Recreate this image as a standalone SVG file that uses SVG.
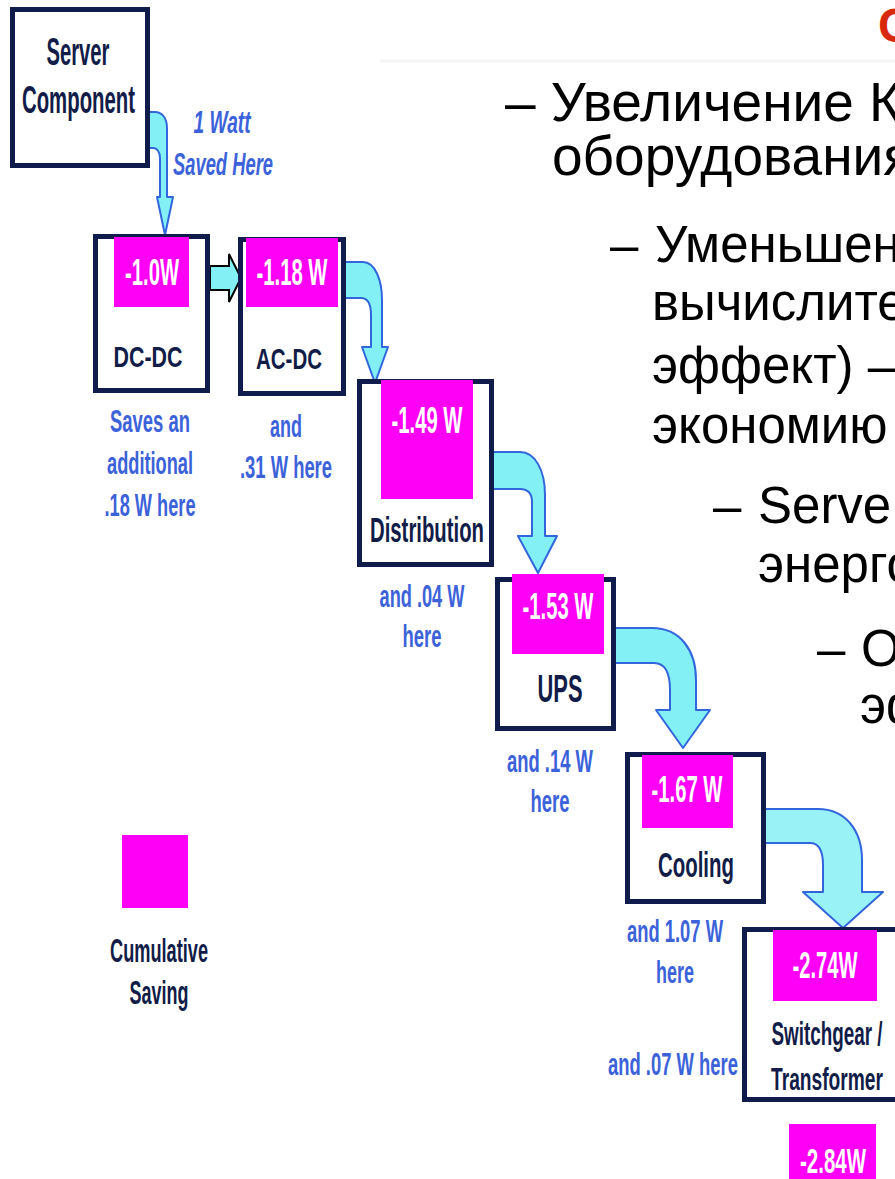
<svg xmlns="http://www.w3.org/2000/svg" width="895" height="1179" viewBox="0 0 895 1179">
  <style>
    .box { fill: #ffffff; stroke: #101d4c; stroke-width: 5; }
    .pink { fill: #ff00f6; }
    .name { font-family: "Liberation Sans", Arial, sans-serif; font-weight: bold; fill: #111c48; text-anchor: middle; }
    .val { font-family: "Liberation Sans", Arial, sans-serif; font-weight: bold; fill: #ffffff; text-anchor: middle; }
    .note { font-family: "Liberation Sans", Arial, sans-serif; font-weight: bold; fill: #3c62da; text-anchor: middle; font-size: 31px; }
    .flow { fill: #82f0f4; stroke: #3266dc; stroke-width: 2; stroke-linejoin: round; }
    .body { font-family: "Liberation Sans", Arial, sans-serif; fill: #000000; }
  </style>

  <rect width="895" height="1179" fill="#ffffff"/>

  <!-- slide heading fragment and faint rule -->
  <g id="heading">
    <line x1="380" y1="61" x2="895" y2="61" stroke="#f3f5f3" stroke-width="3"/>
    <text x="878" y="42" font-family="Liberation Sans, Arial, sans-serif" font-weight="bold" font-size="48" fill="#d8290c">С</text>
  </g>

  <!-- bullet text -->
  <g id="bullets" class="body">
    <text x="505" y="121" font-size="55">– Увеличение К</text>
    <text x="552" y="175" font-size="55">оборудования</text>
    <text x="610" y="262" font-size="51">–</text>
    <text x="655" y="262" font-size="51">Уменьшен</text>
    <text x="652" y="320" font-size="51">вычислите</text>
    <text x="652" y="383" font-size="51">эффект) –</text>
    <text x="652" y="443" font-size="51">экономию</text>
    <text x="713" y="523" font-size="51">–</text>
    <text x="758" y="523" font-size="51">Serve</text>
    <text x="758" y="582" font-size="51">энерго</text>
    <text x="817" y="666" font-size="51">–</text>
    <text x="861" y="666" font-size="51">О</text>
    <text x="860" y="723" font-size="51">эф</text>
  </g>

  <!-- flow arrows -->
  <g id="connectors">
    <path class="flow" d="M148,112 L155,112 C162,112 167,118 167,128 L167,197 L173,197 L165,235 L157,197 L160,197 L160,158 C160,152 157,148 153,148 L148,148 Z"/>
    <path d="M210,266 L229,266 L229,254 L241,278 L229,302 L229,290 L210,290 Z" fill="#82f0f4" stroke="#000000" stroke-width="2" stroke-linejoin="miter"/>
    <path class="flow" d="M343,262 L363,262 C375,262 382,280 382,300 L382,347 L388,347 L375,383 L362,347 L371,347 L371,315 C371,305 368,298 361,298 L343,298 Z"/>
    <path class="flow" d="M493,452 L520,452 C535,452 545,470 545,495 L545,536 L557,536 L538,573 L518,536 L532,536 L532,502 C532,494 528,489 520,489 L493,489 Z"/>
    <path class="flow" d="M615,628 L652,628 C680,628 696,650 696,680 L696,710 L710,710 L683,748 L656,710 L670,710 L670,690 C670,672 664,663 654,663 L615,663 Z"/>
    <path class="flow" fill-opacity="0.82" d="M748,809 L818,809 C845,809 862,830 862,860 L862,892 L883,892 L843,928 L803,892 L823,892 L823,865 C823,850 818,843 810,843 L748,843 Z"/>
  </g>

  <g id="server-component">
    <rect class="box" x="12.5" y="9.5" width="135" height="156"/>
    <text class="name" x="78" y="65" font-size="38" textLength="63" lengthAdjust="spacingAndGlyphs">Server</text>
    <text class="name" x="78.5" y="113" font-size="38" textLength="113" lengthAdjust="spacingAndGlyphs">Component</text>
  </g>
  <g id="watt-note">
    <text class="note" x="222" y="133" font-size="30" font-style="italic" textLength="57" lengthAdjust="spacingAndGlyphs">1 Watt</text>
    <text class="note" x="223" y="175" font-size="30" font-style="italic" textLength="100" lengthAdjust="spacingAndGlyphs">Saved Here</text>
  </g>

  <g id="dc-dc">
    <rect class="box" x="95.5" y="236.5" width="112" height="154"/>
    <rect class="pink" x="114" y="237" width="75" height="70"/>
    <text class="val" x="152" y="285" font-size="37" textLength="54" lengthAdjust="spacingAndGlyphs">-1.0W</text>
    <text class="name" x="148" y="367" font-size="30" textLength="69" lengthAdjust="spacingAndGlyphs">DC-DC</text>
    <text class="note" x="150" y="432" textLength="80" lengthAdjust="spacingAndGlyphs">Saves an</text>
    <text class="note" x="150" y="474" textLength="86" lengthAdjust="spacingAndGlyphs">additional</text>
    <text class="note" x="150" y="516" textLength="91" lengthAdjust="spacingAndGlyphs">.18 W here</text>
  </g>

  <g id="ac-dc">
    <rect class="box" x="240.5" y="239.5" width="103" height="154"/>
    <rect class="pink" x="246" y="238" width="92" height="69"/>
    <text class="val" x="292" y="285" font-size="37" textLength="71" lengthAdjust="spacingAndGlyphs">-1.18 W</text>
    <text class="name" x="289" y="369" font-size="30" textLength="66" lengthAdjust="spacingAndGlyphs">AC-DC</text>
    <text class="note" x="286" y="437" textLength="32" lengthAdjust="spacingAndGlyphs">and</text>
    <text class="note" x="286" y="478" textLength="92" lengthAdjust="spacingAndGlyphs">.31 W here</text>
  </g>

  <g id="distribution">
    <rect class="box" x="359.5" y="381.5" width="132" height="183"/>
    <rect class="pink" x="381" y="380" width="92" height="119"/>
    <text class="val" x="427" y="433" font-size="37" textLength="71" lengthAdjust="spacingAndGlyphs">-1.49 W</text>
    <text class="name" x="427" y="542" font-size="35" textLength="114" lengthAdjust="spacingAndGlyphs">Distribution</text>
    <text class="note" x="422" y="607" textLength="85" lengthAdjust="spacingAndGlyphs">and .04 W</text>
    <text class="note" x="422" y="647" textLength="39" lengthAdjust="spacingAndGlyphs">here</text>
  </g>

  <g id="ups">
    <rect class="box" x="497.5" y="579.5" width="116" height="149"/>
    <rect class="pink" x="512" y="574" width="92" height="80"/>
    <text class="val" x="558" y="619" font-size="36" textLength="71" lengthAdjust="spacingAndGlyphs">-1.53 W</text>
    <text class="name" x="560" y="702" font-size="38" textLength="45" lengthAdjust="spacingAndGlyphs">UPS</text>
    <text class="note" x="550" y="772" textLength="86" lengthAdjust="spacingAndGlyphs">and .14 W</text>
    <text class="note" x="550" y="812" textLength="39" lengthAdjust="spacingAndGlyphs">here</text>
  </g>

  <g id="cooling">
    <rect class="box" x="627.5" y="754.5" width="136" height="147"/>
    <rect class="pink" x="642" y="755" width="91" height="73"/>
    <text class="val" x="687" y="802" font-size="37" textLength="71" lengthAdjust="spacingAndGlyphs">-1.67 W</text>
    <text class="name" x="696" y="877" font-size="35" textLength="76" lengthAdjust="spacingAndGlyphs">Cooling</text>
    <text class="note" x="675" y="942" textLength="96" lengthAdjust="spacingAndGlyphs">and 1.07 W</text>
    <text class="note" x="675" y="983" textLength="38" lengthAdjust="spacingAndGlyphs">here</text>
  </g>

  <g id="switchgear-transformer">
    <rect class="box" x="744.5" y="929.5" width="200" height="170"/>
    <rect class="pink" x="773" y="930" width="104" height="71"/>
    <text class="val" x="825" y="978" font-size="36" textLength="65" lengthAdjust="spacingAndGlyphs">-2.74W</text>
    <text class="name" x="827" y="1045" font-size="33" textLength="111" lengthAdjust="spacingAndGlyphs">Switchgear /</text>
    <text class="name" x="827" y="1090" font-size="32" textLength="112" lengthAdjust="spacingAndGlyphs">Transformer</text>
    <text class="note" x="673" y="1075" textLength="130" lengthAdjust="spacingAndGlyphs">and .07 W here</text>
  </g>

  <g id="total">
    <rect class="pink" x="789" y="1124" width="87" height="60"/>
    <text class="val" x="833" y="1173" font-size="35" textLength="66" lengthAdjust="spacingAndGlyphs">-2.84W</text>
  </g>

  <g id="legend">
    <rect class="pink" x="122" y="835" width="66" height="73"/>
    <text class="name" x="159" y="962" font-size="33" textLength="98" lengthAdjust="spacingAndGlyphs">Cumulative</text>
    <text class="name" x="159" y="1004" font-size="33" textLength="59" lengthAdjust="spacingAndGlyphs">Saving</text>
  </g>
</svg>
